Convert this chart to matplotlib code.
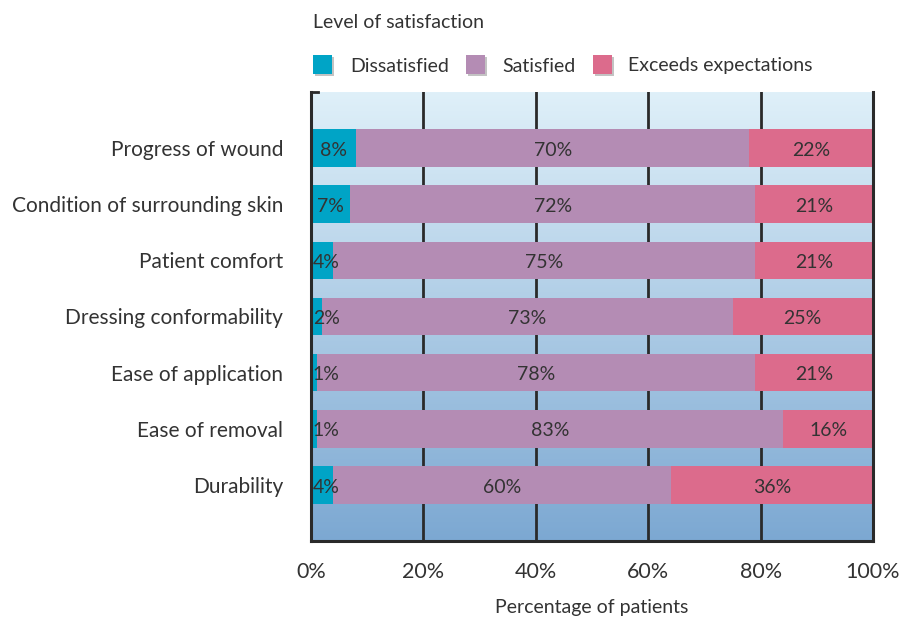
import matplotlib
matplotlib.use("Agg")
import matplotlib.pyplot as plt
import numpy as np
from matplotlib.patches import Rectangle
from matplotlib.lines import Line2D
from matplotlib.colors import LinearSegmentedColormap

categories = ["Progress of wound", "Condition of surrounding skin", "Patient comfort",
              "Dressing conformability", "Ease of application", "Ease of removal", "Durability"]
dissatisfied = [8, 7, 4, 2, 1, 1, 4]
satisfied = [70, 72, 75, 73, 78, 83, 60]
exceeds = [22, 21, 21, 25, 21, 16, 36]
series_names = ["Dissatisfied", "Satisfied", "Exceeds expectations"]
colors = ["#00a4c6", "#b48cb4", "#dc6b8c"]
xticks = [0, 20, 40, 60, 80, 100]
xtick_labels = ["0%", "20%", "40%", "60%", "80%", "100%"]

plt.rcParams['font.family'] = ['Lato', 'DejaVu Sans']
txt = "#333333"

fig = plt.figure(figsize=(9.07, 6.21), dpi=100)
ax = fig.add_axes([311/907, 1-541/621, 562/907, (541-92)/621])

ax.set_xlim(0, 100)
ax.set_ylim(7.0, -1.0)

# gradient background
grad = np.linspace(0, 1, 256).reshape(-1, 1)
cmap = LinearSegmentedColormap.from_list("bg", ["#dff0f9", "#7ca8d2"])
ax.imshow(grad, aspect='auto', cmap=cmap, extent=[0, 100, 7.0, -1.0], zorder=0)

for xv in xticks[1:-1]:
    ax.axvline(xv, color="#2a2a2a", lw=2, zorder=1)

y = np.arange(len(categories))
h = 0.67
left = np.zeros(len(categories))
data = [dissatisfied, satisfied, exceeds]
for vals, c in zip(data, colors):
    vals = np.array(vals, dtype=float)
    ax.barh(y, vals, left=left, height=h, color=c, zorder=2)
    for yi, (l, v) in enumerate(zip(left, vals)):
        cx = l + v / 2
        cx = max(cx, 2.7)
        ax.text(cx, yi + 0.04, f"{int(v)}%", ha='center', va='center', fontsize=14,
                color=txt, zorder=3)
    left += vals

ax.set_yticks(y)
ax.set_yticklabels(categories, fontsize=15, color=txt)
for lab in ax.get_yticklabels():
    lab.set_verticalalignment('center_baseline')
ax.set_xticks(xticks)
ax.set_xticklabels(xtick_labels, fontsize=15.5, color=txt)
ax.tick_params(length=0)
ax.tick_params(axis='y', pad=20)
ax.tick_params(axis='x', pad=15)
ax.set_xlabel("Percentage of patients", fontsize=14, color=txt, labelpad=12)

for s in ['left', 'bottom', 'right']:
    ax.spines[s].set_color("#2a2a2a")
    ax.spines[s].set_linewidth(2.2)
ax.spines['top'].set_visible(False)
ax.add_line(Line2D([0, 0.012], [1, 1], transform=ax.transAxes, color="#2a2a2a", lw=2, clip_on=False))

# legend
fig.text(313/907, 1-22/621, "Level of satisfaction", fontsize=14, color=txt, va='center', ha='left')
sq_x = [313, 466, 593]
tx_x = [350, 502, 628]
ly = 65
for sx, tx, name, c in zip(sq_x, tx_x, series_names, colors):
    fig.patches.append(Rectangle(((sx+2)/907, 1-(ly+11)/621), 19/907, 19/621, transform=fig.transFigure,
                                 facecolor="#555555", alpha=0.35, edgecolor='none'))
    fig.patches.append(Rectangle((sx/907, 1-(ly+9)/621), 19/907, 19/621, transform=fig.transFigure,
                                 facecolor=c, edgecolor='none'))
    fig.text(tx/907, 1-(ly+1)/621, name, fontsize=14, color=txt, va='center', ha='left')

fig.savefig("out.png", dpi=100)
